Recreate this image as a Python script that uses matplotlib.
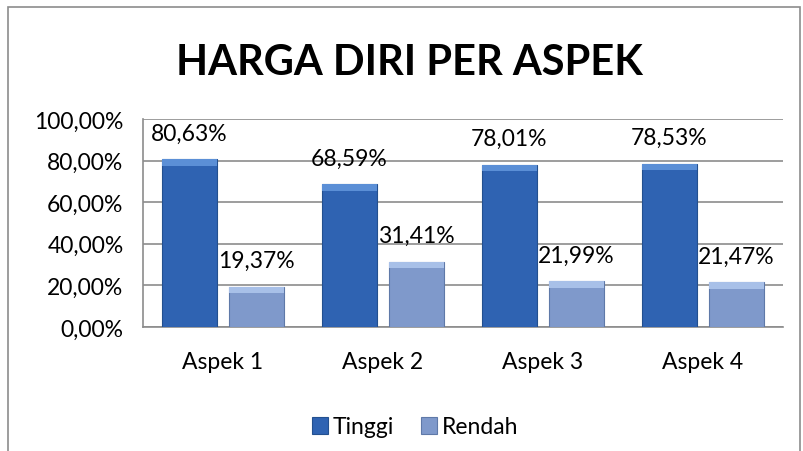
import numpy as np
import matplotlib.pyplot as plt
from matplotlib.patches import Rectangle

categories = ["Aspek 1", "Aspek 2", "Aspek 3", "Aspek 4"]
tinggi = [80.63, 68.59, 78.01, 78.53]
rendah = [19.37, 31.41, 21.99, 21.47]
tinggi_labels = ["80,63%", "68,59%", "78,01%", "78,53%"]
rendah_labels = ["19,37%", "31,41%", "21,99%", "21,47%"]
y_ticks = [0, 20, 40, 60, 80, 100]
y_tick_labels = ["0,00%", "20,00%", "40,00%", "60,00%", "80,00%", "100,00%"]

plt.rcParams['font.family'] = ['Lato', 'DejaVu Sans']
FS = 16.5

fig = plt.figure(figsize=(8.04, 4.52), dpi=100)
fig.patches.append(Rectangle((8/804, -0.1), 792/804, 1.1 - 8/452, transform=fig.transFigure,
                             fill=False, edgecolor="#8c8c8c", linewidth=1.2))

ax = fig.add_axes([143/804, 1 - 328/452, 640/804, 208/452])

x = np.arange(len(categories))
w = 0.34
off = 0.21

c_t = "#2f63b2"
c_r = "#7f99cb"
b1 = ax.bar(x - off, tinggi, w, color=c_t, edgecolor="#23508f", linewidth=0.8, label="Tinggi", zorder=3)
b2 = ax.bar(x + off, rendah, w, color=c_r, edgecolor="#5f79a8", linewidth=0.8, label="Rendah", zorder=3)

# lighter bevel on top of each bar
for bars, cap in ((b1, "#5b8fd6"), (b2, "#a8c0e8")):
    for b in bars:
        ax.add_patch(Rectangle((b.get_x(), b.get_height() - 3), b.get_width(), 3,
                               color=cap, zorder=4, linewidth=0))

for i in range(len(categories)):
    ax.annotate(tinggi_labels[i], (x[i] - off, tinggi[i]), xytext=(0, 19), textcoords="offset points",
                ha="center", va="center", fontsize=FS, color="black", zorder=5)
    ax.annotate(rendah_labels[i], (x[i] + off, rendah[i]), xytext=(0, 19), textcoords="offset points",
                ha="center", va="center", fontsize=FS, color="black", zorder=5)

ax.set_xlim(-0.5, 3.5)
ax.set_ylim(0, 100)
ax.set_yticks(y_ticks)
ax.set_yticklabels(y_tick_labels, fontsize=FS)
ax.set_xticks(x)
ax.set_xticklabels(categories, fontsize=FS)
ax.tick_params(axis="both", length=0)
ax.tick_params(axis="y", pad=14)
ax.tick_params(axis="x", pad=17)
ax.yaxis.grid(True, color="#8c8c8c", linewidth=1.2, zorder=0)
for s in ["top", "right"]:
    ax.spines[s].set_visible(False)
ax.spines["left"].set_color("#8c8c8c")
ax.spines["bottom"].set_color("#8c8c8c")
ax.spines["left"].set_linewidth(1.2)
ax.spines["bottom"].set_linewidth(1.2)

fig.text(409/804, 1 - 63/452, "HARGA DIRI PER ASPEK", ha="center", va="center",
         fontsize=30, fontweight="bold")

fig.legend(handles=[b1, b2], labels=["Tinggi", "Rendah"], loc="center",
           bbox_to_anchor=(415/804, 1 - 428/452), ncol=2, frameon=False, fontsize=FS,
           handlelength=0.7, handleheight=0.7, handletextpad=0.2, columnspacing=1.2)

fig.savefig("out.png", dpi=100)
